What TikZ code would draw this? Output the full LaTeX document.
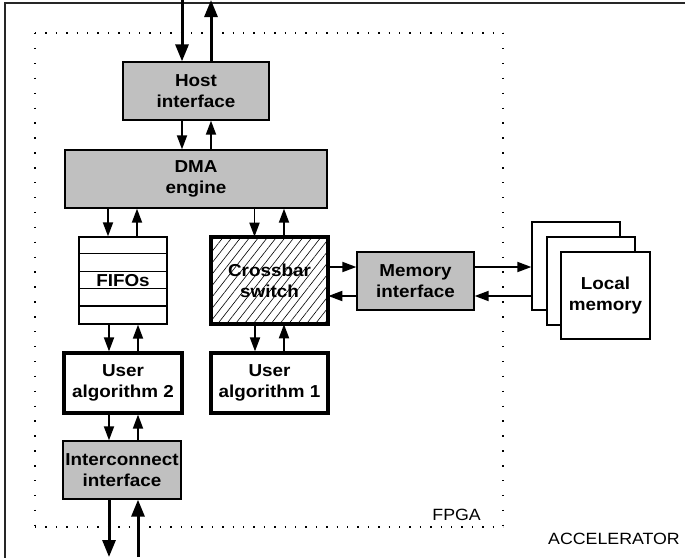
\documentclass[tikz,border=0pt]{standalone}
\usepackage{fontspec}
\setmainfont{Liberation Sans}[FakeStretch=1.09]
\usetikzlibrary{arrows.meta,patterns.meta}
\definecolor{boxgrey}{RGB}{192,192,192}

\begin{document}
\begin{tikzpicture}[x=1pt,y=-1pt,
  box/.style={draw, line width=1.3pt, align=center, inner sep=0pt,
    font=\bfseries\fontsize{17.3}{21}\selectfont},
  greybox/.style={box, fill=boxgrey},
  heavybox/.style={box, line width=3.2pt},
  plainbox/.style={draw, line width=1.3pt, fill=white},
  arr/.style={line width=1.8pt, -{Triangle[length=14pt,width=10pt]}},
  bigarr/.style={line width=3pt, -{Triangle[length=17pt,width=13pt]}},
  label/.style={font=\fontsize{16.3}{20}\selectfont, inner sep=0pt},
]
\useasboundingbox (0,0) rectangle (685,557);

% accelerator board outline (only the top and left edges lie inside the frame)
\draw[line width=1.5pt, black!85] (5,560) -- (5,3) -- (690,3);

% FPGA boundary, dotted
\draw[line width=1.4pt, dash pattern=on 1.4pt off 9pt] (35,33) -- (503,33);
\draw[line width=1.4pt, dash pattern=on 1.4pt off 9pt] (35,527) -- (503,527);
\draw[line width=1.4pt, dash pattern=on 1.4pt off 13.5pt] (35,33) -- (35,527);
\draw[line width=1.4pt, dash pattern=on 1.4pt off 13.5pt] (503,33) -- (503,527);

% functional blocks
\node[greybox, minimum width=146pt, minimum height=58pt] (host) at (196,91) {Host\\interface};
\node[greybox, minimum width=262pt, minimum height=58pt] (dma) at (196,179) {DMA\\engine};

\node[box, minimum width=88pt, minimum height=87pt] (fifo) at (123,280.5) {};
\foreach \k in {1,2,3,4}
  \draw[line width=1.1pt] ([yshift=-\k*17.4pt]fifo.north west) -- ([yshift=-\k*17.4pt]fifo.north east);
\node[font=\bfseries\fontsize{17.3}{21}\selectfont, fill=white, inner sep=1pt] (fifotext) at (fifo.center) {FIFOs};

\node[heavybox, minimum width=117pt, minimum height=87pt,
  pattern={Lines[angle=52, distance=7pt, line width=0.6pt]}] (xbar) at (269.5,280.5) {Crossbar\\switch};

\node[heavybox, minimum width=118pt, minimum height=60pt] (alg2) at (123,383) {User\\algorithm 2};
\node[heavybox, minimum width=117pt, minimum height=60pt] (alg1) at (269.5,383) {User\\algorithm 1};
\node[greybox, minimum width=118pt, minimum height=58pt] (icon) at (122,470) {Interconnect\\interface};
\node[greybox, minimum width=117pt, minimum height=58pt] (mem) at (415.5,281) {Memory\\interface};

% stacked local memory banks
\node[plainbox, minimum width=88pt, minimum height=88pt] (lm3) at (576,266) {};
\node[plainbox, minimum width=88pt, minimum height=88pt] (lm2) at (591,281) {};
\node[box, fill=white, minimum width=89pt, minimum height=87pt] (lm1) at (605.5,295.5) {Local\\memory};

% labels
\node[label, anchor=base east] (fpga) at (481,520) {FPGA};
\node[label, anchor=base east] (acc) at (680,544) {ACCELERATOR};

% external host link
\coordinate (hin) at ([xshift=-14pt]host.north);
\coordinate (hout) at ([xshift=15pt]host.north);
\draw[bigarr] (hin |- 0,0) -- (hin);
\draw[bigarr] (hout) -- (hout |- 0,0);

% host <-> dma
\coordinate (hd1) at ([xshift=-14pt]host.south);
\coordinate (hd2) at ([xshift=15pt]host.south);
\draw[arr] (hd1) -- (hd1 |- dma.north);
\draw[arr] (hd2 |- dma.north) -- (hd2);

% dma <-> fifos
\coordinate (df1) at ([xshift=-15pt]fifo.north);
\coordinate (df2) at ([xshift=14pt]fifo.north);
\draw[arr] (df1 |- dma.south) -- (df1);
\draw[arr] (df2) -- (df2 |- dma.south);

% dma <-> crossbar
\coordinate (dx1) at ([xshift=-15pt]xbar.north);
\coordinate (dx2) at ([xshift=14.5pt]xbar.north);
\draw[arr] (dx1 |- dma.south) -- (dx1);
\draw[arr] (dx2) -- (dx2 |- dma.south);

% fifos <-> user algorithm 2
\coordinate (fa1) at ([xshift=-14pt]alg2.north);
\coordinate (fa2) at ([xshift=15pt]alg2.north);
\draw[arr] (fa1 |- fifo.south) -- (fa1);
\draw[arr] (fa2) -- (fa2 |- fifo.south);

% crossbar <-> user algorithm 1
\coordinate (xa1) at ([xshift=-14.5pt]alg1.north);
\coordinate (xa2) at ([xshift=14.5pt]alg1.north);
\draw[arr] (xa1 |- xbar.south) -- (xa1);
\draw[arr] (xa2) -- (xa2 |- xbar.south);

% user algorithm 2 <-> interconnect
\coordinate (ai1) at ([xshift=-13pt]icon.north);
\coordinate (ai2) at ([xshift=16pt]icon.north);
\draw[arr] (ai1 |- alg2.south) -- (ai1);
\draw[arr] (ai2) -- (ai2 |- alg2.south);

% external interconnect link
\coordinate (io1) at ([xshift=-13pt]icon.south);
\coordinate (io2) at ([xshift=16pt]icon.south);
\draw[bigarr] (io1) -- (io1 |- 0,557);
\draw[bigarr] (io2 |- 0,557) -- (io2);

% crossbar <-> memory interface (canvas y points up, so +yshift is the upper line)
\coordinate (xm1) at ([yshift=14pt]mem.west);
\coordinate (xm2) at ([yshift=-15pt]mem.west);
\draw[arr] (xm1 -| xbar.east) -- (xm1);
\draw[arr] (xm2) -- (xm2 -| xbar.east);

% memory interface <-> local memory
\coordinate (ml1) at ([yshift=14pt]mem.east);
\coordinate (ml2) at ([yshift=-15pt]mem.east);
\draw[arr] (ml1) -- (ml1 -| lm3.west);
\draw[arr] (ml2 -| lm3.west) -- (ml2);
\end{tikzpicture}
\end{document}
